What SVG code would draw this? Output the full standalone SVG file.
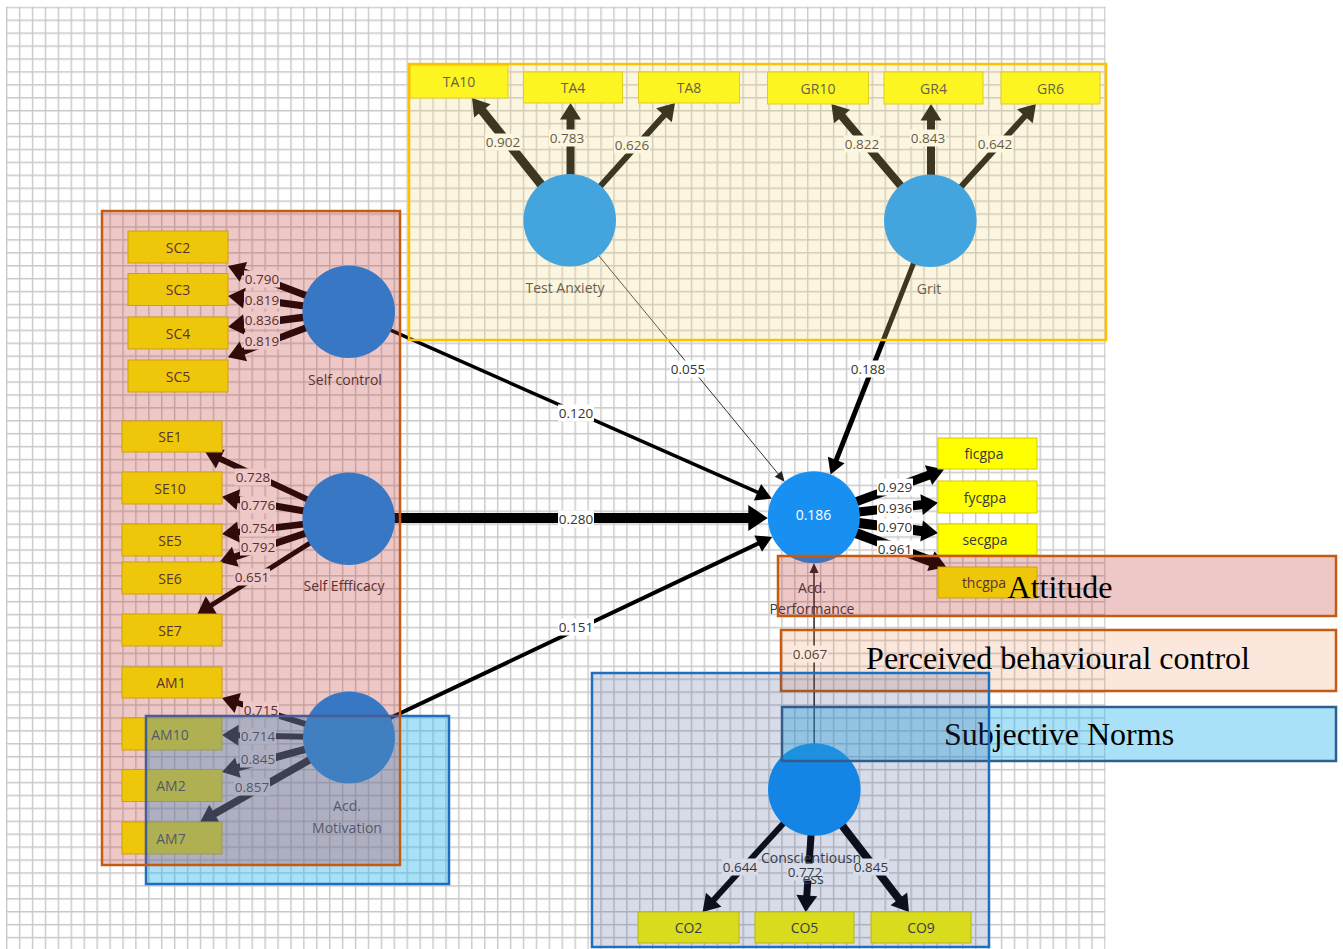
<svg xmlns="http://www.w3.org/2000/svg" width="1343" height="949" viewBox="0 0 1343 949">
<style>
.bx{fill:#ffff00;stroke:#d6cc00;stroke-width:1}
.lv{fill:#0a93fb}
.t{font-family:'Open Sans','Noto Sans',sans-serif;font-size:14px;fill:#383838;text-anchor:middle}
.lt{font-family:'Open Sans','Noto Sans',sans-serif;font-size:13.5px;fill:#333;text-anchor:middle}
.lr{fill:#ffffff}
.c{stroke:#000;fill:none}
.leg{font-family:'Liberation Serif','Times New Roman',serif;font-size:32px;fill:#000;text-anchor:middle}
.pink{fill:rgb(190,40,40);fill-opacity:.26;stroke:#c55a11;stroke-width:2.5}
.lblue{fill:rgb(40,180,240);fill-opacity:.4;stroke-width:2.5}
</style>
<defs>
<pattern id="grid" patternUnits="userSpaceOnUse" x="6" y="6.6" width="12.92" height="12.92">
<path d="M0,0.7H12.92M0.7,0V12.92" stroke="#c9c9c9" stroke-width="1.4" fill="none"/>
</pattern>
<marker id="mL" markerUnits="userSpaceOnUse" markerWidth="40" markerHeight="40" refX="0" refY="0" orient="auto" overflow="visible"><path d="M-1.5,-10.5L15,0L-1.5,10.5Z" fill="#000"/></marker>
<marker id="mX" markerUnits="userSpaceOnUse" markerWidth="40" markerHeight="40" refX="0" refY="0" orient="auto" overflow="visible"><path d="M-1.5,-13L18,0L-1.5,13Z" fill="#000"/></marker>
<marker id="mM" markerUnits="userSpaceOnUse" markerWidth="40" markerHeight="40" refX="0" refY="0" orient="auto" overflow="visible"><path d="M-1.5,-9L14,0L-1.5,9Z" fill="#000"/></marker>
<marker id="mS" markerUnits="userSpaceOnUse" markerWidth="40" markerHeight="40" refX="0" refY="0" orient="auto" overflow="visible"><path d="M-1,-4.5L9,0L-1,4.5Z" fill="#222"/></marker>
</defs>

<rect x="0" y="0" width="1343" height="949" fill="#fff"/>
<rect x="6" y="6.6" width="1099.6" height="942.4" fill="url(#grid)"/>

<g id="connectors" class="c">
<g marker-end="url(#mL)">
<path d="M569.7,220.3L481.4,109.7" stroke-width="9"/>
<path d="M570.5,220.3L570.5,118" stroke-width="8"/>
<path d="M569.7,220.3L665,114.2" stroke-width="6"/>
<path d="M930.3,220.7L841.1,115.4" stroke-width="8"/>
<path d="M931,220.7L931,119" stroke-width="8"/>
<path d="M930.3,220.7L1025.9,115.1" stroke-width="6"/>
<path d="M348.7,311.7L242,271.3" stroke-width="7"/>
<path d="M348.7,311.7L242.9,297.9" stroke-width="7"/>
<path d="M348.7,311.7L242.9,324.9" stroke-width="7.5"/>
<path d="M348.7,311.7L242,351.9" stroke-width="7"/>
<path d="M348.7,518.7L218.9,458.3" stroke-width="6"/>
<path d="M348.7,518.7L236.8,499.3" stroke-width="7"/>
<path d="M348.7,518.7L236.9,532.2" stroke-width="6.5"/>
<path d="M348.7,518.7L233.9,557.2" stroke-width="7"/>
<path d="M348.7,518.7L210.1,606" stroke-width="5"/>
<path d="M349,737.5L236.3,702.5" stroke-width="6"/>
<path d="M349,737.5L237,735.3" stroke-width="6"/>
<path d="M349,737.5L236.5,768" stroke-width="7.5"/>
<path d="M349,737.5L213.2,814.6" stroke-width="7.5"/>
<path d="M813.8,517.2L929.9,474.7" stroke-width="9"/>
<path d="M813.8,517.2L923.1,504.5" stroke-width="9"/>
<path d="M813.8,517.2L923.1,531.2" stroke-width="10"/>
<path d="M813.8,517.2L932.3,561.7" stroke-width="10"/>
<path d="M814.3,789.5L712.7,900.9" stroke-width="6"/>
<path d="M814.3,789.5L806.7,897" stroke-width="7"/>
<path d="M814.3,789.5L899.8,900.1" stroke-width="8"/>
</g>
<path d="M348.7,311.7L758.9,492.9" stroke-width="3.5" marker-end="url(#mM)"/>
<path d="M348.7,518L749.8,518" stroke-width="10" marker-end="url(#mX)"/>
<path d="M349,737.5L759.5,542.9" stroke-width="4" marker-end="url(#mM)"/>
<path d="M569.7,220.3L778.9,474.7" stroke-width="1" stroke="#333" marker-end="url(#mS)"/>
<path d="M930.3,220.7L835.7,461.4" stroke-width="5" marker-end="url(#mM)"/>
<path d="M814.3,789.5L814,572" stroke-width="1.5" stroke="#222" marker-end="url(#mS)"/>
</g>

<g id="connector-labels">
<rect class="lr" x="485" y="133.5" width="36" height="17"/><text class="lt" x="503" y="146.7">0.902</text>
<rect class="lr" x="549" y="129.5" width="36" height="17"/><text class="lt" x="567" y="142.7">0.783</text>
<rect class="lr" x="614" y="136.5" width="36" height="17"/><text class="lt" x="632" y="149.7">0.626</text>
<rect class="lr" x="844" y="135.5" width="36" height="17"/><text class="lt" x="862" y="148.7">0.822</text>
<rect class="lr" x="910" y="129.5" width="36" height="17"/><text class="lt" x="928" y="142.7">0.843</text>
<rect class="lr" x="977" y="135.5" width="36" height="17"/><text class="lt" x="995" y="148.7">0.642</text>
<rect class="lr" x="244" y="270.5" width="36" height="17"/><text class="lt" x="262" y="283.7">0.790</text>
<rect class="lr" x="244" y="291.5" width="36" height="17"/><text class="lt" x="262" y="304.7">0.819</text>
<rect class="lr" x="244" y="311.5" width="36" height="17"/><text class="lt" x="262" y="324.7">0.836</text>
<rect class="lr" x="244" y="332.5" width="36" height="17"/><text class="lt" x="262" y="345.7">0.819</text>
<rect class="lr" x="235" y="468.5" width="36" height="17"/><text class="lt" x="253" y="481.7">0.728</text>
<rect class="lr" x="240" y="496.5" width="36" height="17"/><text class="lt" x="258" y="509.7">0.776</text>
<rect class="lr" x="240" y="519.5" width="36" height="17"/><text class="lt" x="258" y="532.7">0.754</text>
<rect class="lr" x="240" y="538.5" width="36" height="17"/><text class="lt" x="258" y="551.7">0.792</text>
<rect class="lr" x="234" y="568.5" width="36" height="17"/><text class="lt" x="252" y="581.7">0.651</text>
<rect class="lr" x="243" y="701.5" width="36" height="17"/><text class="lt" x="261" y="714.7">0.715</text>
<rect class="lr" x="240" y="727.5" width="36" height="17"/><text class="lt" x="258" y="740.7">0.714</text>
<rect class="lr" x="240" y="750.5" width="36" height="17"/><text class="lt" x="258" y="763.7">0.845</text>
<rect class="lr" x="234" y="778.5" width="36" height="17"/><text class="lt" x="252" y="791.7">0.857</text>
<rect class="lr" x="877" y="478.5" width="36" height="17"/><text class="lt" x="895" y="491.7">0.929</text>
<rect class="lr" x="877" y="499.5" width="36" height="17"/><text class="lt" x="895" y="512.7">0.936</text>
<rect class="lr" x="877" y="518.5" width="36" height="17"/><text class="lt" x="895" y="531.7">0.970</text>
<rect class="lr" x="877" y="540.5" width="36" height="17"/><text class="lt" x="895" y="553.7">0.961</text>
<rect class="lr" x="722" y="858.5" width="36" height="17"/><text class="lt" x="740" y="871.7">0.644</text>
<rect class="lr" x="787" y="863.5" width="36" height="17"/><text class="lt" x="805" y="876.7">0.772</text>
<rect class="lr" x="853" y="858.5" width="36" height="17"/><text class="lt" x="871" y="871.7">0.845</text>
<rect class="lr" x="558" y="404.5" width="36" height="17"/><text class="lt" x="576" y="417.7">0.120</text>
<rect class="lr" x="558" y="510.5" width="36" height="17"/><text class="lt" x="576" y="523.7">0.280</text>
<rect class="lr" x="558" y="618.5" width="36" height="17"/><text class="lt" x="576" y="631.7">0.151</text>
<rect class="lr" x="670" y="360.5" width="36" height="17"/><text class="lt" x="688" y="373.7">0.055</text>
<rect class="lr" x="850" y="360.5" width="36" height="17"/><text class="lt" x="868" y="373.7">0.188</text>
<rect class="lr" x="792" y="645.5" width="36" height="17"/><text class="lt" x="810" y="658.7">0.067</text>
</g>

<g id="test-anxiety"><circle class="lv" cx="569.7" cy="220.3" r="46.3"/><text class="t" x="565" y="293">Test Anxiety</text></g>
<g id="grit"><circle class="lv" cx="930.3" cy="220.7" r="46.3"/><text class="t" x="929" y="294">Grit</text></g>
<g id="self-control"><circle class="lv" cx="348.7" cy="311.7" r="46.3"/><text class="t" x="345" y="385">Self control</text></g>
<g id="self-efficacy"><circle class="lv" cx="348.7" cy="518.7" r="46.3"/><text class="t" x="344" y="591">Self Effficacy</text></g>
<g id="acd-motivation"><circle class="lv" cx="349" cy="737.5" r="46"/><text class="t" x="347" y="811">Acd.</text><text class="t" x="347" y="833">Motivation</text></g>
<g id="acd-performance"><circle class="lv" cx="813.8" cy="517.2" r="46" style="fill:#1890f2"/><text class="t" x="813.5" y="520" style="fill:#fff">0.186</text><text class="t" x="812" y="593">Acd.</text><text class="t" x="812" y="614">Performance</text></g>
<g id="conscientiousness"><circle class="lv" cx="814.3" cy="789.5" r="46.3"/><text class="t" x="811" y="863">Conscientiousn</text><text class="t" x="813" y="884">ess</text></g>

<g id="TA10"><rect class="bx" x="410" y="65" width="98" height="33"/><text class="t" x="459" y="87">TA10</text></g>
<g id="TA4"><rect class="bx" x="523.5" y="72" width="99" height="31"/><text class="t" x="573" y="93">TA4</text></g>
<g id="TA8"><rect class="bx" x="638.5" y="72" width="101" height="31"/><text class="t" x="689" y="93">TA8</text></g>
<g id="GR10"><rect class="bx" x="767.5" y="72" width="101" height="32"/><text class="t" x="818" y="93.5">GR10</text></g>
<g id="GR4"><rect class="bx" x="884" y="72" width="99" height="32"/><text class="t" x="933.5" y="93.5">GR4</text></g>
<g id="GR6"><rect class="bx" x="1001" y="72" width="99" height="32"/><text class="t" x="1050.5" y="93.5">GR6</text></g>
<g id="SC2"><rect class="bx" x="128" y="231" width="100" height="32"/><text class="t" x="178" y="252.5">SC2</text></g>
<g id="SC3"><rect class="bx" x="128" y="273.5" width="100" height="32"/><text class="t" x="178" y="295">SC3</text></g>
<g id="SC4"><rect class="bx" x="128" y="317" width="100" height="32"/><text class="t" x="178" y="338.5">SC4</text></g>
<g id="SC5"><rect class="bx" x="128" y="360" width="100" height="32"/><text class="t" x="178" y="381.5">SC5</text></g>
<g id="SE1"><rect class="bx" x="122" y="421" width="100" height="31"/><text class="t" x="170" y="442">SE1</text></g>
<g id="SE10"><rect class="bx" x="122" y="472" width="100" height="32"/><text class="t" x="170" y="493.5">SE10</text></g>
<g id="SE5"><rect class="bx" x="122" y="524" width="100" height="32"/><text class="t" x="170" y="545.5">SE5</text></g>
<g id="SE6"><rect class="bx" x="122" y="562" width="100" height="32"/><text class="t" x="170" y="583.5">SE6</text></g>
<g id="SE7"><rect class="bx" x="122" y="614" width="100" height="32"/><text class="t" x="170" y="635.5">SE7</text></g>
<g id="AM1"><rect class="bx" x="122" y="667" width="100" height="31"/><text class="t" x="171" y="688">AM1</text></g>
<g id="AM10"><rect class="bx" x="122" y="718" width="100" height="32"/><text class="t" x="170" y="739.5">AM10</text></g>
<g id="AM2"><rect class="bx" x="122" y="769.5" width="100" height="32"/><text class="t" x="171" y="791">AM2</text></g>
<g id="AM7"><rect class="bx" x="122" y="822" width="100" height="32"/><text class="t" x="171" y="843.5">AM7</text></g>
<g id="ficgpa"><rect class="bx" x="938" y="438" width="99" height="31"/><text class="t" x="984" y="459">ficgpa</text></g>
<g id="fycgpa"><rect class="bx" x="938" y="481" width="99" height="32"/><text class="t" x="985" y="502.5">fycgpa</text></g>
<g id="secgpa"><rect class="bx" x="938" y="524" width="99" height="31"/><text class="t" x="985" y="545">secgpa</text></g>
<g id="thcgpa"><rect class="bx" x="938" y="567" width="99" height="31"/><text class="t" x="984" y="588">thcgpa</text></g>
<g id="CO2"><rect class="bx" x="638" y="912" width="101" height="31"/><text class="t" x="688.5" y="933">CO2</text></g>
<g id="CO5"><rect class="bx" x="755" y="912" width="99" height="31"/><text class="t" x="804.5" y="933">CO5</text></g>
<g id="CO9"><rect class="bx" x="871" y="912" width="100" height="31"/><text class="t" x="921" y="933">CO9</text></g>

<g id="motivation-area"><rect class="lblue" x="146" y="716" width="303" height="168" stroke="#1f6fbf"/></g>
<g id="self-area"><rect class="pink" x="102" y="211" width="298" height="654"/></g>
<g id="anxiety-grit-area"><rect x="409" y="64" width="697" height="276" fill="rgb(245,215,130)" fill-opacity=".25" stroke="#ffc000" stroke-width="2.5"/></g>
<g id="legend-attitude"><rect class="pink" x="778" y="556" width="558" height="60"/><text class="leg" x="1060" y="598">Attitude</text></g>
<g id="legend-pbc"><rect x="781" y="630" width="555" height="61" fill="rgb(235,120,60)" fill-opacity=".18" stroke="#c55a11" stroke-width="2.5"/><text class="leg" x="1058" y="669">Perceived behavioural control</text></g>
<g id="legend-sn"><rect class="lblue" x="782" y="707" width="554" height="54" stroke="#2f5f8f"/><text class="leg" x="1059" y="745">Subjective Norms</text></g>
<g id="conscientiousness-area"><rect x="592" y="673" width="397" height="274" fill="rgb(60,80,140)" fill-opacity=".2" stroke="#1f6fbf" stroke-width="2.5"/></g>
</svg>
